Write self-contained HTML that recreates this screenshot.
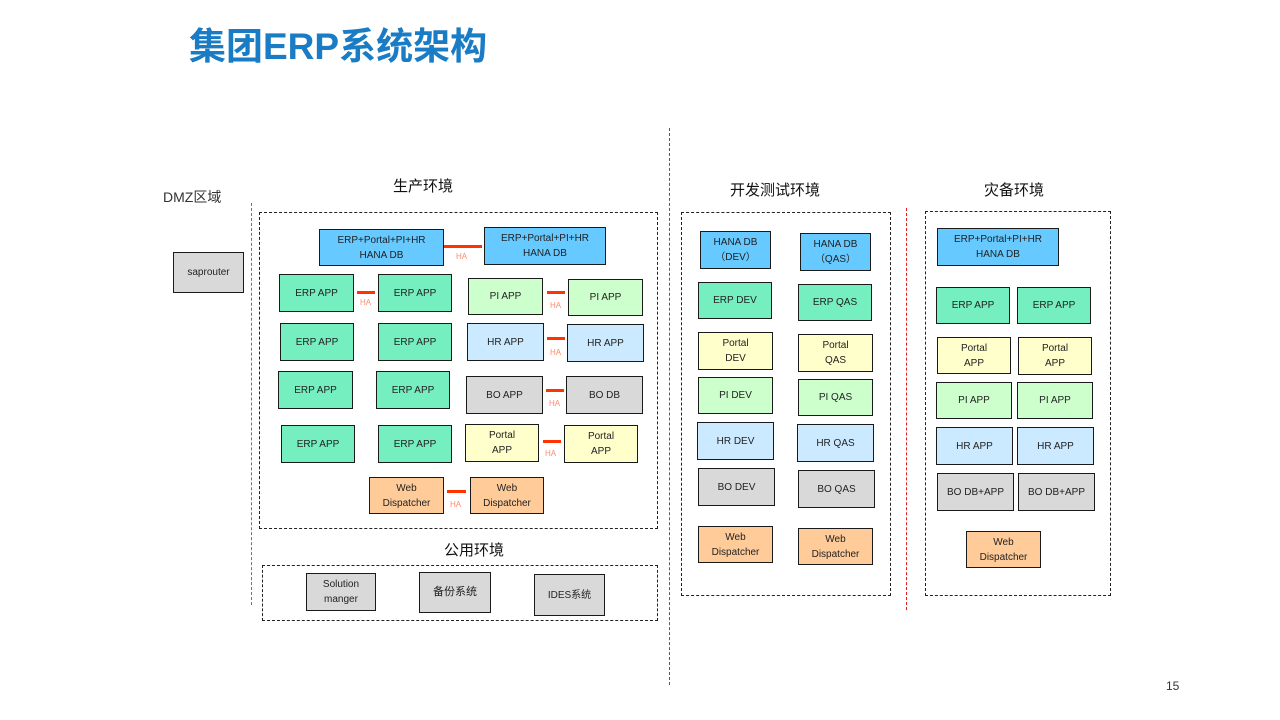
<!DOCTYPE html>
<html><head><meta charset="utf-8"><style>
body{margin:0;background:#fff;}
#c{position:relative;width:1280px;height:720px;overflow:hidden;font-family:"Liberation Sans","Noto Sans CJK SC",sans-serif;}
.b{position:absolute;box-sizing:border-box;border:1.3px solid #1a1a1a;display:flex;align-items:center;justify-content:center;text-align:center;font-size:10px;line-height:15px;color:#222;}
.bl{background:#66c9ff}.g{background:#75eec0}.lg{background:#ccffcc}.lb{background:#cceaff}.gr{background:#d9d9d9}.y{background:#ffffcc}.o{background:#ffcb99}
.d{position:absolute;box-sizing:border-box;border:1px dashed #222;}
.h{position:absolute;height:3px;background:#ff3300;}
.ha{position:absolute;font-size:8px;color:#ff8c70;}
.t{position:absolute;font-size:15px;color:#111;white-space:nowrap;}
</style></head><body><div id="c">
<div style="position:absolute;left:189px;top:25px;font-size:37px;font-weight:bold;color:#1a7cc4;white-space:nowrap;line-height:44px;">集团ERP系统架构</div>

<div class="t" style="left:163px;top:187px;font-size:14px;color:#333">DMZ区域</div>
<div class="t" style="left:393px;top:175px;">生产环境</div>
<div class="t" style="left:730px;top:179px;">开发测试环境</div>
<div class="t" style="left:984px;top:179px;">灾备环境</div>
<div class="t" style="left:444px;top:539px;">公用环境</div>
<div class="t" style="left:1166px;top:679px;font-size:12px;color:#333">15</div>

<div style="position:absolute;left:251px;top:203px;height:402px;border-left:1px dashed #8060a0"></div>
<div style="position:absolute;left:669px;top:128px;height:557px;border-left:1px dashed #e02020"></div>
<div style="position:absolute;left:906px;top:208px;height:402px;border-left:1px dashed #e02020"></div>

<div class="b gr" style="left:173px;top:252px;width:71px;height:41px">saprouter</div>

<div class="d" style="left:259px;top:212px;width:399px;height:317px"></div>
<div class="b bl" style="left:319px;top:229px;width:125px;height:37px">ERP+Portal+PI+HR<br>HANA DB</div>
<div class="b bl" style="left:484px;top:227px;width:122px;height:38px">ERP+Portal+PI+HR<br>HANA DB</div>
<div class="h" style="left:444px;top:245px;width:38px"></div><div class="ha" style="left:456px;top:252px">HA</div>

<div class="b g" style="left:279px;top:274px;width:75px;height:38px">ERP APP</div>
<div class="b g" style="left:378px;top:274px;width:74px;height:38px">ERP APP</div>
<div class="h" style="left:357px;top:291px;width:18px"></div><div class="ha" style="left:360px;top:298px">HA</div>
<div class="b lg" style="left:468px;top:278px;width:75px;height:37px">PI APP</div>
<div class="b lg" style="left:568px;top:279px;width:75px;height:37px">PI APP</div>
<div class="h" style="left:547px;top:291px;width:18px"></div><div class="ha" style="left:550px;top:301px">HA</div>

<div class="b g" style="left:280px;top:323px;width:74px;height:38px">ERP APP</div>
<div class="b g" style="left:378px;top:323px;width:74px;height:38px">ERP APP</div>
<div class="b lb" style="left:467px;top:323px;width:77px;height:38px">HR APP</div>
<div class="b lb" style="left:567px;top:324px;width:77px;height:38px">HR APP</div>
<div class="h" style="left:547px;top:337px;width:18px"></div><div class="ha" style="left:550px;top:348px">HA</div>

<div class="b g" style="left:278px;top:371px;width:75px;height:38px">ERP APP</div>
<div class="b g" style="left:376px;top:371px;width:74px;height:38px">ERP APP</div>
<div class="b gr" style="left:466px;top:376px;width:77px;height:38px">BO APP</div>
<div class="b gr" style="left:566px;top:376px;width:77px;height:38px">BO DB</div>
<div class="h" style="left:546px;top:389px;width:18px"></div><div class="ha" style="left:549px;top:399px">HA</div>

<div class="b g" style="left:281px;top:425px;width:74px;height:38px">ERP APP</div>
<div class="b g" style="left:378px;top:425px;width:74px;height:38px">ERP APP</div>
<div class="b y" style="left:465px;top:424px;width:74px;height:38px">Portal<br>APP</div>
<div class="b y" style="left:564px;top:425px;width:74px;height:38px">Portal<br>APP</div>
<div class="h" style="left:543px;top:440px;width:18px"></div><div class="ha" style="left:545px;top:449px">HA</div>

<div class="b o" style="left:369px;top:477px;width:75px;height:37px">Web<br>Dispatcher</div>
<div class="b o" style="left:470px;top:477px;width:74px;height:37px">Web<br>Dispatcher</div>
<div class="h" style="left:447px;top:490px;width:19px"></div><div class="ha" style="left:450px;top:500px">HA</div>

<div class="d" style="left:262px;top:565px;width:396px;height:56px"></div>
<div class="b gr" style="left:306px;top:573px;width:70px;height:38px">Solution<br>manger</div>
<div class="b gr" style="left:419px;top:572px;width:72px;height:41px;font-size:11px">备份系统</div>
<div class="b gr" style="left:534px;top:574px;width:71px;height:42px">IDES系统</div>

<div class="d" style="left:681px;top:212px;width:210px;height:384px"></div>
<div class="b bl" style="left:700px;top:231px;width:71px;height:38px">HANA DB<br>（DEV）</div>
<div class="b bl" style="left:800px;top:233px;width:71px;height:38px">HANA DB<br>（QAS）</div>
<div class="b g" style="left:698px;top:282px;width:74px;height:37px">ERP DEV</div>
<div class="b g" style="left:798px;top:284px;width:74px;height:37px">ERP QAS</div>
<div class="b y" style="left:698px;top:332px;width:75px;height:38px">Portal<br>DEV</div>
<div class="b y" style="left:798px;top:334px;width:75px;height:38px">Portal<br>QAS</div>
<div class="b lg" style="left:698px;top:377px;width:75px;height:37px">PI DEV</div>
<div class="b lg" style="left:798px;top:379px;width:75px;height:37px">PI QAS</div>
<div class="b lb" style="left:697px;top:422px;width:77px;height:38px">HR DEV</div>
<div class="b lb" style="left:797px;top:424px;width:77px;height:38px">HR QAS</div>
<div class="b gr" style="left:698px;top:468px;width:77px;height:38px">BO DEV</div>
<div class="b gr" style="left:798px;top:470px;width:77px;height:38px">BO QAS</div>
<div class="b o" style="left:698px;top:526px;width:75px;height:37px">Web<br>Dispatcher</div>
<div class="b o" style="left:798px;top:528px;width:75px;height:37px">Web<br>Dispatcher</div>

<div class="d" style="left:925px;top:211px;width:186px;height:385px"></div>
<div class="b bl" style="left:937px;top:228px;width:122px;height:38px">ERP+Portal+PI+HR<br>HANA DB</div>
<div class="b g" style="left:936px;top:287px;width:74px;height:37px">ERP APP</div>
<div class="b g" style="left:1017px;top:287px;width:74px;height:37px">ERP APP</div>
<div class="b y" style="left:937px;top:337px;width:74px;height:37px">Portal<br>APP</div>
<div class="b y" style="left:1018px;top:337px;width:74px;height:38px">Portal<br>APP</div>
<div class="b lg" style="left:936px;top:382px;width:76px;height:37px">PI APP</div>
<div class="b lg" style="left:1017px;top:382px;width:76px;height:37px">PI APP</div>
<div class="b lb" style="left:936px;top:427px;width:77px;height:38px">HR APP</div>
<div class="b lb" style="left:1017px;top:427px;width:77px;height:38px">HR APP</div>
<div class="b gr" style="left:937px;top:473px;width:77px;height:38px">BO DB+APP</div>
<div class="b gr" style="left:1018px;top:473px;width:77px;height:38px">BO DB+APP</div>
<div class="b o" style="left:966px;top:531px;width:75px;height:37px">Web<br>Dispatcher</div>
</div></body></html>
